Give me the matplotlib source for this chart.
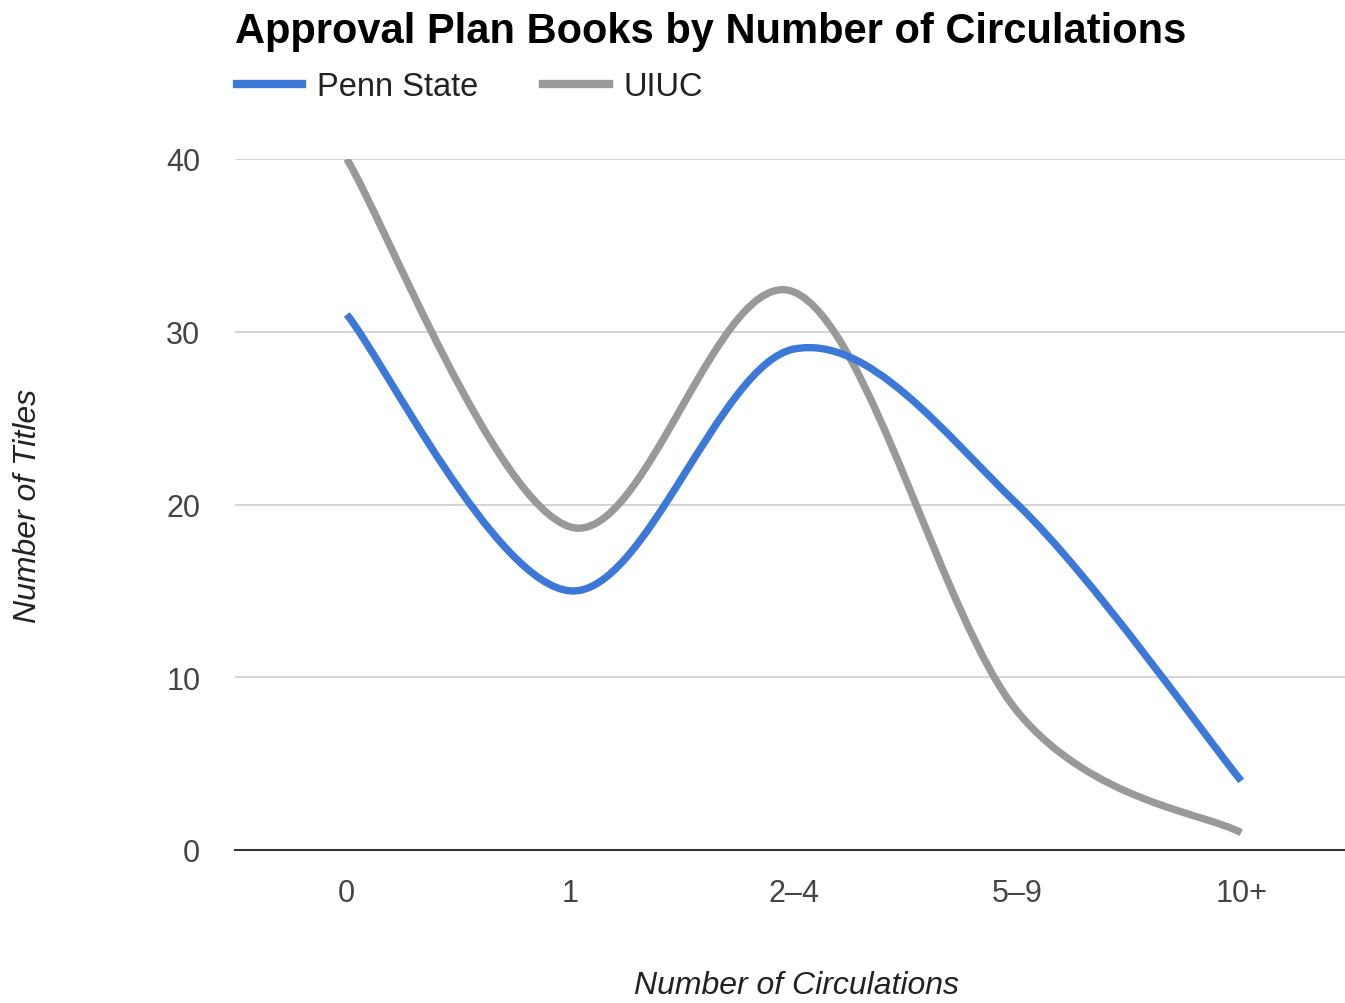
import numpy as np
import matplotlib
matplotlib.use("Agg")
import matplotlib.pyplot as plt
from matplotlib.path import Path
from matplotlib.patches import PathPatch
from matplotlib.lines import Line2D

categories = ["0", "1", "2\u20134", "5\u20139", "10+"]
penn_state = [31, 15, 29, 20, 4]
uiuc = [40, 18.7, 32.3, 8, 1]
yticks = [0, 10, 20, 30, 40]

blue = "#3c78d8"
grey = "#999999"

plt.rcParams['font.family'] = ['Liberation Sans', 'DejaVu Sans']


def smooth_path(xs, ys, k=1/6.0):
    # catmull-rom style bezier through the points (the "curved line" look)
    xs = np.asarray(xs, float)
    ys = np.asarray(ys, float)
    n = len(xs)
    verts = [(xs[0], ys[0])]
    codes = [Path.MOVETO]
    for i in range(n - 1):
        p0 = i - 1 if i > 0 else i
        p3 = i + 2 if i + 2 < n else i + 1
        c1 = (xs[i] + (xs[i+1] - xs[p0]) * k, ys[i] + (ys[i+1] - ys[p0]) * k)
        c2 = (xs[i+1] - (xs[p3] - xs[i]) * k, ys[i+1] - (ys[p3] - ys[i]) * k)
        verts += [c1, c2, (xs[i+1], ys[i+1])]
        codes += [Path.CURVE4] * 3
    return Path(verts, codes)


fig = plt.figure(figsize=(13.45, 10.04), dpi=100)
ax = fig.add_axes([235/1345, 153/1004, 1118/1345, 691/1004])

x = np.arange(len(categories))
for vals, col in [(uiuc, grey), (penn_state, blue)]:
    ax.add_patch(PathPatch(smooth_path(x, vals), facecolor='none', edgecolor=col,
                           lw=5.3, capstyle='butt', zorder=3))

ax.set_xlim(-0.5, 4.5)
ax.set_ylim(0, 40)
ax.set_yticks(yticks)
ax.set_xticks(x)
ax.set_xticklabels(categories)
ax.tick_params(axis='both', length=0, labelsize=22, colors='#444444')
ax.tick_params(axis='y', pad=25)
ax.tick_params(axis='x', pad=20)
ax.grid(axis='y', color='#cccccc', lw=1.2)
ax.set_axisbelow(True)
for s in ['top', 'right', 'left']:
    ax.spines[s].set_visible(False)
ax.spines['bottom'].set_color('#333333')
ax.spines['bottom'].set_linewidth(1.5)
ax.spines['bottom'].set_zorder(4)

ax.set_xlabel("Number of Circulations", fontsize=23, style='italic', color='#222222', va='center')
ax.xaxis.set_label_coords((797 - 235) / 1118, (851 - 986) / 691)
ax.set_ylabel("Number of Titles", fontsize=23, style='italic', color='#222222', va='center')
ax.yaxis.set_label_coords((28 - 235) / 1118, 0.5)

fig.text(235/1345, 1 - 32/1004, "Approval Plan Books by Number of Circulations",
         fontsize=30, fontweight='bold', va='center', ha='left', color='#000000')

handles = [Line2D([], [], color=blue, lw=6), Line2D([], [], color=grey, lw=6)]
fig.legend(handles, ["Penn State", "UIUC"], loc='center left',
           bbox_to_anchor=(237/1345, 1 - 88/1004), ncol=2, frameon=False,
           fontsize=23.5, handlelength=2.0, handletextpad=0.45, columnspacing=2.0,
           borderpad=0, borderaxespad=0, labelcolor='#222222')

fig.savefig("out.png", dpi=100)
